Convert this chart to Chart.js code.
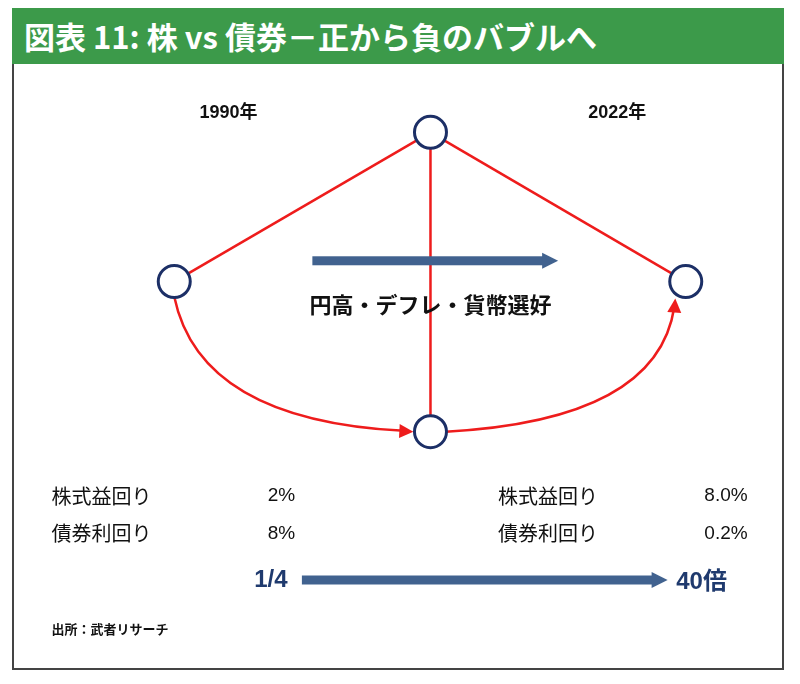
<!DOCTYPE html>
<html lang="ja">
<head>
<meta charset="UTF-8">
<script src="https://cdn.jsdelivr.net/npm/chart.js"></script>
<style>
  body { margin: 0; background: #fff; font-family: 'Noto Sans CJK JP', sans-serif; }
  #frame { position: absolute; left: 12px; top: 8px; width: 772px; height: 662px; border: 2px solid #444; box-sizing: border-box; }
  #title { position: absolute; left: 12px; top: 8px; width: 772px; height: 56px; background: #3c9a4a; color: #fff;
           font-size: 31px; font-weight: bold; line-height: 56px; padding-left: 12px; box-sizing: border-box; }
  #wrap { position: absolute; left: 0; top: 0; width: 800px; height: 684px; }
</style>
</head>
<body>
<div id="frame"></div>
<div id="title">図表 11: 株 vs 債券－正から負のバブルへ</div>
<div id="wrap"><canvas id="c" width="800" height="684"></canvas></div>
<script>
// diagram nodes (x, y in chart units)
const nodeX = [432, 163, 700, 432];
const nodeY = [120, 278, 278, 437];
const straightLinks = [[1, 0], [0, 2], [0, 3]];
const yearLabels = ['1990年', '2022年'];
const centerLabel = '円高・デフレ・貨幣選好';
const rowNames = ['株式益回り', '債券利回り'];
const values1990 = ['2%', '8%'];
const values2022 = ['8.0%', '0.2%'];
const ratioFrom = '1/4';
const ratioTo = '40倍';
const source = '出所：武者リサーチ';

const RED = '#ee1c1c', NAVY = '#1f3a6e', ARROW = '#41628f';

const datasets = straightLinks.map(([a, b]) => ({
  type: 'line', data: [{x: nodeX[a], y: nodeY[a]}, {x: nodeX[b], y: nodeY[b]}],
  borderColor: RED, borderWidth: 2.5, pointRadius: 0, order: 2
}));
datasets.push({
  type: 'scatter', data: nodeX.map((x, i) => ({x, y: nodeY[i]})),
  pointRadius: 16, pointHoverRadius: 16, pointBackgroundColor: '#fff',
  pointBorderColor: '#1c2f66', pointBorderWidth: 3, order: 0
});

function arrowHead(ctx, x, y, ang, size, color) {
  ctx.save(); ctx.fillStyle = color; ctx.translate(x, y); ctx.rotate(ang);
  ctx.beginPath(); ctx.moveTo(0, 0); ctx.lineTo(-size, -size * 0.5); ctx.lineTo(-size, size * 0.5); ctx.closePath(); ctx.fill();
  ctx.restore();
}
function blockArrow(ctx, x1, x2, y, th, color) {
  ctx.fillStyle = color;
  ctx.fillRect(x1, y - th / 2, x2 - x1 - 14, th);
  arrowHead(ctx, x2, y, 0, 16, color);
}

const deco = {
  id: 'deco',
  beforeDatasetsDraw(chart) {
    const {ctx, scales: {x, y}} = chart;
    ctx.save();
    ctx.strokeStyle = RED; ctx.lineWidth = 2.5;
    // left -> bottom curve
    ctx.beginPath();
    ctx.moveTo(x.getPixelForValue(nodeX[1]), y.getPixelForValue(nodeY[1] + 16));
    ctx.quadraticCurveTo(x.getPixelForValue(190), y.getPixelForValue(425), x.getPixelForValue(404), y.getPixelForValue(436));
    ctx.stroke();
    arrowHead(ctx, x.getPixelForValue(414), y.getPixelForValue(437), 0.05, 14, RED);
    // bottom -> right curve
    ctx.beginPath();
    ctx.moveTo(x.getPixelForValue(nodeX[3] + 16), y.getPixelForValue(nodeY[3]));
    ctx.quadraticCurveTo(x.getPixelForValue(670), y.getPixelForValue(425), x.getPixelForValue(688), y.getPixelForValue(305));
    ctx.stroke();
    arrowHead(ctx, x.getPixelForValue(689), y.getPixelForValue(296), -1.5, 14, RED);
    ctx.restore();
  },
  afterDatasetsDraw(chart) {
    const {ctx, scales: {x, y}} = chart;
    ctx.save();
    blockArrow(ctx, x.getPixelForValue(308), x.getPixelForValue(566), y.getPixelForValue(256), 9, ARROW);
    blockArrow(ctx, x.getPixelForValue(297), x.getPixelForValue(681), y.getPixelForValue(594), 9, ARROW);
    ctx.fillStyle = '#111'; ctx.textBaseline = 'middle';
    ctx.font = 'bold 18px "Liberation Sans", "Noto Sans CJK JP"';
    ctx.textAlign = 'center';
    ctx.fillText(yearLabels[0], x.getPixelForValue(220), y.getPixelForValue(100));
    ctx.fillText(yearLabels[1], x.getPixelForValue(628), y.getPixelForValue(100));
    ctx.font = 'bold 22px "Noto Sans CJK JP"';
    ctx.fillText(centerLabel, x.getPixelForValue(432), y.getPixelForValue(302));
    ctx.font = '20px "Noto Sans CJK JP", "Liberation Sans"';
    ctx.textAlign = 'left';
    rowNames.forEach((n, i) => {
      const yy = y.getPixelForValue(505 + i * 40);
      ctx.fillText(n, x.getPixelForValue(34), yy);
      ctx.fillText(n, x.getPixelForValue(503), yy);
    });
    ctx.font = '19px "Liberation Sans"';
    ctx.textAlign = 'right';
    values1990.forEach((v, i) => ctx.fillText(v, x.getPixelForValue(290), y.getPixelForValue(505 + i * 40)));
    values2022.forEach((v, i) => ctx.fillText(v, x.getPixelForValue(765), y.getPixelForValue(505 + i * 40)));
    ctx.fillStyle = NAVY; ctx.font = 'bold 24px "Liberation Sans", "Noto Sans CJK JP"';
    ctx.fillText(ratioFrom, x.getPixelForValue(282), y.getPixelForValue(594));
    ctx.textAlign = 'left';
    ctx.fillText(ratioTo, x.getPixelForValue(690), y.getPixelForValue(596));
    ctx.fillStyle = '#111'; ctx.font = 'bold 13px "Noto Sans CJK JP"';
    ctx.fillText(source, x.getPixelForValue(34), y.getPixelForValue(646));
    ctx.restore();
  }
};

new Chart(document.getElementById('c'), {
  type: 'scatter',
  data: {datasets},
  plugins: [deco],
  options: {
    responsive: false, animation: false, devicePixelRatio: 1,
    layout: {padding: 0},
    plugins: {legend: {display: false}, tooltip: {enabled: false}},
    scales: {
      x: {type: 'linear', min: 0, max: 800, display: false},
      y: {type: 'linear', min: 0, max: 684, reverse: true, display: false}
    }
  }
});
</script>
</body>
</html>
